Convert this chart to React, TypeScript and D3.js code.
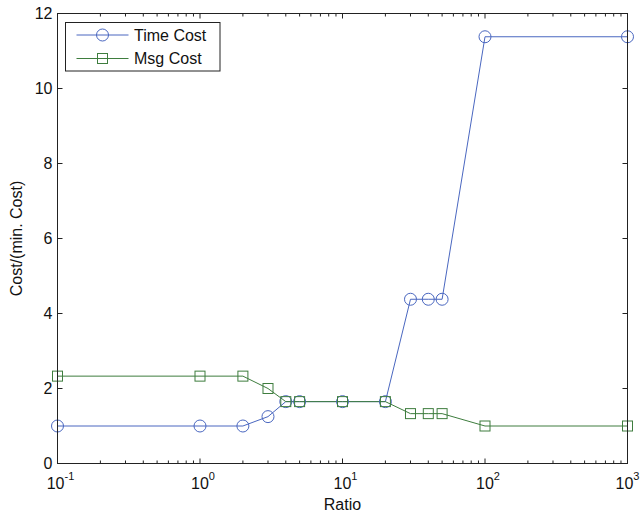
import React from "react";
import * as d3 from "d3";

const ratios = [0.1, 1, 2, 3, 4, 5, 10, 20, 30, 40, 50, 100, 1000];
const timeCost = [1, 1, 1, 1.25, 1.65, 1.65, 1.65, 1.65, 4.38, 4.38, 4.38, 11.38, 11.38];
const msgCost = [2.33, 2.33, 2.33, 2.0, 1.65, 1.65, 1.65, 1.65, 1.33, 1.33, 1.33, 1.0, 1.0];
const yTicks = [0, 2, 4, 6, 8, 10, 12];
const xMajorExps = [-1, 0, 1, 2, 3];
const seriesNames = ["Time Cost", "Msg Cost"];

const W = 640, H = 515;
const L = 57.5, R = 627.5, T = 13.5, B = 463.5;
const BLUE = "#4a67c0";
const GREEN = "#3e7d3e";
const FONT = "Liberation Sans, Arial, sans-serif";

export default function App() {
  const x = d3.scaleLog().domain([0.1, 1000]).range([L, R]);
  const y = d3.scaleLinear().domain([0, 12]).range([B, T]);

  const minors: number[] = [];
  for (let e = -1; e < 3; e++) {
    for (let k = 2; k <= 9; k++) minors.push(k * Math.pow(10, e));
  }

  const line = d3
    .line<number>()
    .x((_, i) => x(ratios[i]))
    .y((d) => y(d));

  return (
    <svg width={W} height={H} style={{ position: "absolute", left: 0, top: 0, background: "#fff" }}>
      <rect x={0} y={0} width={W} height={H} fill="#fff" />
      {/* series */}
      <path d={line(timeCost) || ""} fill="none" stroke={BLUE} strokeWidth={1} />
      <path d={line(msgCost) || ""} fill="none" stroke={GREEN} strokeWidth={1} />
      {timeCost.map((v, i) => (
        <circle key={"t" + i} cx={x(ratios[i])} cy={y(v)} r={6} fill="none" stroke={BLUE} strokeWidth={1} />
      ))}
      {msgCost.map((v, i) => (
        <rect key={"m" + i} x={x(ratios[i]) - 5} y={y(v) - 5} width={10} height={10} fill="none" stroke={GREEN} strokeWidth={1} />
      ))}
      {/* axes box */}
      <rect x={L} y={T} width={R - L} height={B - T} fill="none" stroke="#222" strokeWidth={1} />
      {/* y ticks */}
      {yTicks.map((t) => (
        <g key={"y" + t}>
          <line x1={L} x2={L + 5} y1={y(t)} y2={y(t)} stroke="#222" />
          <line x1={R} x2={R - 5} y1={y(t)} y2={y(t)} stroke="#222" />
          <text x={L - 5} y={y(t)} dy="0.35em" textAnchor="end" fontFamily={FONT} fontSize={16} fill="#111">
            {t}
          </text>
        </g>
      ))}
      {/* x major ticks */}
      {xMajorExps.map((e, i) => {
        const px = x(Math.pow(10, e));
        const shift = i === xMajorExps.length - 1 ? 0 : 3;
        return (
          <g key={"x" + e}>
            <line x1={px} x2={px} y1={B} y2={B - 5} stroke="#222" />
            <line x1={px} x2={px} y1={T} y2={T + 5} stroke="#222" />
            <text x={px + shift} y={489} textAnchor="middle" fontFamily={FONT} fontSize={16} fill="#111">
              <tspan>10</tspan>
              <tspan dy={-9} fontSize={11}>{e}</tspan>
            </text>
          </g>
        );
      })}
      {minors.map((m, i) => {
        const px = x(m);
        return (
          <g key={"mn" + i}>
            <line x1={px} x2={px} y1={B} y2={B - 3} stroke="#222" />
            <line x1={px} x2={px} y1={T} y2={T + 3} stroke="#222" />
          </g>
        );
      })}
      {/* axis labels */}
      <text x={(L + R) / 2} y={510} textAnchor="middle" fontFamily={FONT} fontSize={16} fill="#111">
        Ratio
      </text>
      <text
        transform={`translate(22, ${(T + B) / 2}) rotate(-90)`}
        textAnchor="middle"
        fontFamily={FONT}
        fontSize={16}
        fill="#111"
      >
        Cost/(min. Cost)
      </text>
      {/* legend */}
      <rect x={65.5} y={22.5} width={154.5} height={48.5} fill="#fff" stroke="#222" strokeWidth={1} />
      {seriesNames.map((name, i) => {
        const cy = 35 + i * 23.5;
        const col = i === 0 ? BLUE : GREEN;
        return (
          <g key={name}>
            <line x1={76.5} x2={128.5} y1={cy} y2={cy} stroke={col} />
            {i === 0 ? (
              <circle cx={102.5} cy={cy} r={6} fill="none" stroke={col} />
            ) : (
              <rect x={97.5} y={cy - 5} width={10} height={10} fill="none" stroke={col} />
            )}
            <text x={134} y={cy} dy="0.35em" fontFamily={FONT} fontSize={16} fill="#111">
              {name}
            </text>
          </g>
        );
      })}
    </svg>
  );
}
